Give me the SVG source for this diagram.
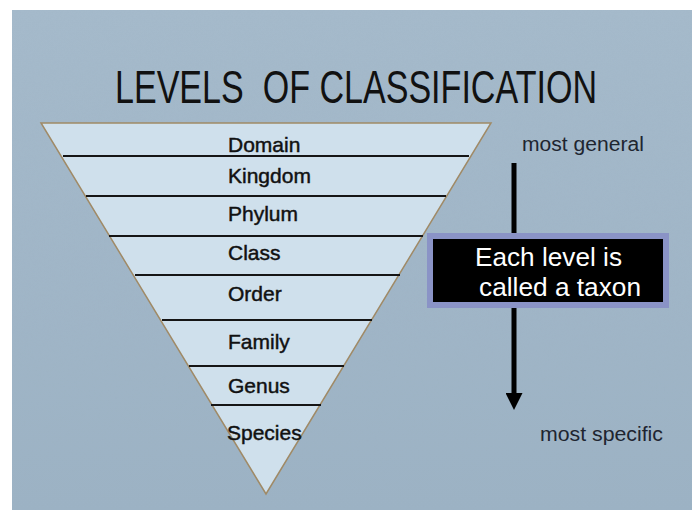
<svg xmlns="http://www.w3.org/2000/svg" width="692" height="510" viewBox="0 0 692 510">
  <defs>
    <linearGradient id="bg" x1="0" y1="0" x2="0" y2="1">
      <stop offset="0" stop-color="#a5bacb"/>
      <stop offset="1" stop-color="#9cb2c4"/>
    </linearGradient>
    <filter id="grain" x="0" y="0" width="100%" height="100%">
      <feTurbulence type="fractalNoise" baseFrequency="0.9" numOctaves="2" seed="3" result="n"/>
      <feColorMatrix in="n" type="matrix" values="0 0 0 0 0.35  0 0 0 0 0.45  0 0 0 0 0.55  0 0 0 0.5 -0.1"/>
    </filter>
    <marker id="head" viewBox="0 0 10 10" refX="0" refY="5" markerWidth="3.4" markerHeight="3.4" markerUnits="strokeWidth" orient="auto">
      <path d="M0,0 L10,5 L0,10 Z" fill="#000"/>
    </marker>
  </defs>
  <style>
    .title { font-family: "Liberation Sans", Arial, sans-serif; font-size: 46px; fill: #111; }
    .level { font-family: "Liberation Sans", Arial, sans-serif; font-size: 21px; fill: #111; stroke: #111; stroke-width: 0.45; }
    .divider { stroke: #151515; stroke-width: 2; }
    .note { font-family: "Liberation Sans", Arial, sans-serif; font-size: 20px; fill: #1e2530; }
    .boxtext { font-family: "Liberation Sans", Arial, sans-serif; font-size: 25px; fill: #fff; }
  </style>

  <!-- page background -->
  <rect width="692" height="510" fill="#ffffff"/>
  <rect x="12" y="10" width="680" height="500" fill="url(#bg)"/>
  <rect x="12" y="10" width="680" height="500" filter="url(#grain)" opacity="0.35"/>

  <text class="title" x="115" y="103" textLength="482" lengthAdjust="spacingAndGlyphs">LEVELS&#160; OF CLASSIFICATION</text>

  <!-- inverted pyramid of ranks -->
  <g id="pyramid">
    <polygon points="41,123 491,123 266,494" fill="#cfe0ec" stroke="#a08a66" stroke-width="1.5" stroke-linejoin="miter"/>
    <line class="divider" x1="63" y1="156" x2="469" y2="156"/>
    <line class="divider" x1="86" y1="196" x2="446" y2="196"/>
    <line class="divider" x1="109" y1="236" x2="423" y2="236"/>
    <line class="divider" x1="135" y1="275" x2="400" y2="275"/>
    <line class="divider" x1="162" y1="320" x2="372" y2="320"/>
    <line class="divider" x1="189" y1="366" x2="344" y2="366"/>
    <line class="divider" x1="211" y1="405" x2="321" y2="405"/>
  </g>

  <g id="domain"><text class="level" x="228" y="152">Domain</text></g>
  <g id="kingdom"><text class="level" x="228" y="183">Kingdom</text></g>
  <g id="phylum"><text class="level" x="228" y="221">Phylum</text></g>
  <g id="class"><text class="level" x="228" y="260">Class</text></g>
  <g id="order"><text class="level" x="228" y="301">Order</text></g>
  <g id="family"><text class="level" x="228" y="349">Family</text></g>
  <g id="genus"><text class="level" x="228" y="393">Genus</text></g>
  <g id="species"><text class="level" x="227" y="440">Species</text></g>

  <!-- general-to-specific arrow -->
  <g id="connectors">
    <line x1="514" y1="163" x2="514" y2="393" stroke="#000" stroke-width="5" marker-end="url(#head)"/>
  </g>

  <g id="general"><text class="note" x="522" y="151" textLength="122" lengthAdjust="spacingAndGlyphs">most general</text></g>
  <g id="specific"><text class="note" x="540" y="441" textLength="123" lengthAdjust="spacingAndGlyphs">most specific</text></g>

  <g id="taxon">
    <rect x="430" y="236" width="236" height="69" fill="#000" stroke="#8a93c6" stroke-width="6"/>
    <text class="boxtext" x="475" y="266" textLength="147" lengthAdjust="spacingAndGlyphs">Each level is</text>
    <text class="boxtext" x="479" y="296" textLength="162" lengthAdjust="spacingAndGlyphs">called a taxon</text>
  </g>
</svg>
